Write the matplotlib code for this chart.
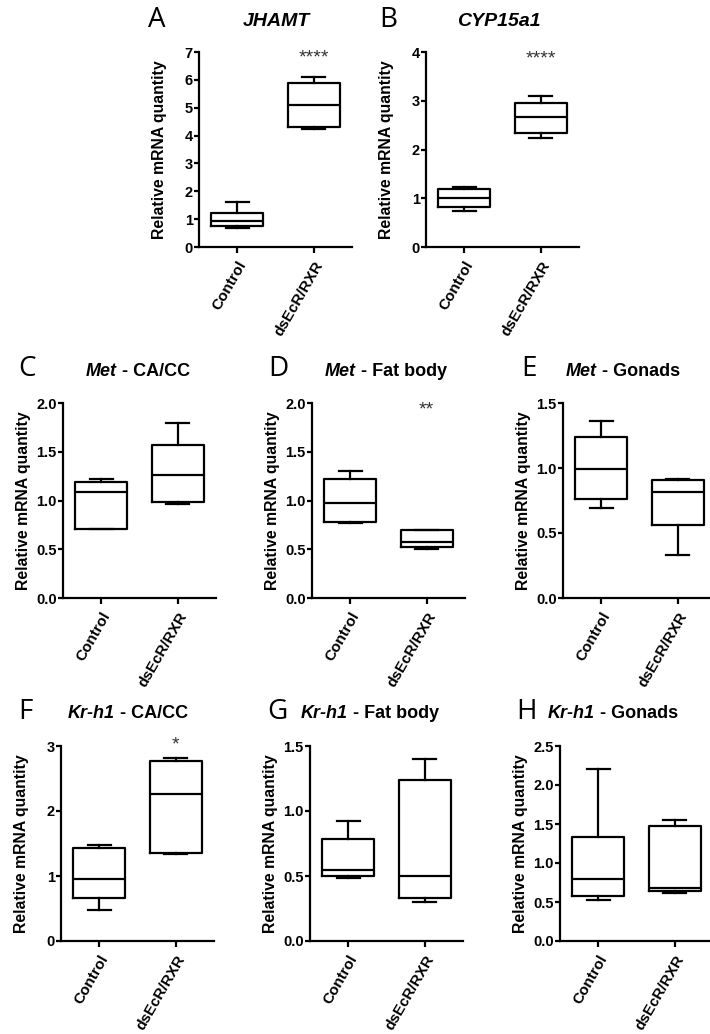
import numpy as np
import matplotlib
matplotlib.use('Agg')
import matplotlib.pyplot as plt

plt.rcParams['font.family'] = ['Liberation Sans', 'DejaVu Sans']

FIGW, FIGH = 7.1, 10.34
DPI = 100
LW = 1.6

GROUPS = ['Control', 'dsEcR/RXR']

# box summaries: whisker low, q1, median, q3, whisker high
JHAMT_CTRL = [0.68, 0.77, 0.93, 1.21, 1.60]
JHAMT_DS = [4.25, 4.31, 5.10, 5.89, 6.09]
CYP_CTRL = [0.73, 0.82, 1.00, 1.18, 1.23]
CYP_DS = [2.24, 2.33, 2.67, 2.95, 3.10]
MET_CACC_CTRL = [0.71, 0.71, 1.085, 1.19, 1.22]
MET_CACC_DS = [0.96, 0.98, 1.26, 1.565, 1.79]
MET_FAT_CTRL = [0.765, 0.78, 0.975, 1.22, 1.30]
MET_FAT_DS = [0.50, 0.525, 0.576, 0.696, 0.696]
MET_GON_CTRL = [0.69, 0.765, 0.99, 1.235, 1.36]
MET_GON_DS = [0.33, 0.558, 0.815, 0.906, 0.918]
KR_CACC_CTRL = [0.47, 0.66, 0.95, 1.43, 1.47]
KR_CACC_DS = [1.34, 1.36, 2.26, 2.77, 2.82]
KR_FAT_CTRL = [0.487, 0.50, 0.544, 0.785, 0.923]
KR_FAT_DS = [0.297, 0.328, 0.503, 1.241, 1.40]
KR_GON_CTRL = [0.53, 0.58, 0.80, 1.33, 2.20]
KR_GON_DS = [0.61, 0.64, 0.68, 1.47, 1.55]

# significance marks over the dsEcR/RXR box
STARS = {'A': ('****', 6.78), 'B': ('****', 3.86), 'D': ('**', 1.93), 'F': ('*', 3.02)}


def fx(px):
    return px / (FIGW * DPI)


def fy(py):
    return 1 - py / (FIGH * DPI)


AX_W, AX_H = 153, 195

# letter, italic gene, tissue, data, ymax, ystep, tick fmt, axes left/top px,
# letter pos px, title pos px, centred title?
PANELS = [
    ('A', 'JHAMT', '', JHAMT_CTRL, JHAMT_DS, 7, 1, '{:.0f}', (199, 52), (148, 20), (276, 22), True),
    ('B', 'CYP15a1', '', CYP_CTRL, CYP_DS, 4, 1, '{:.0f}', (426, 52), (379, 20), (499, 22), True),
    ('C', 'Met', ' - CA/CC', MET_CACC_CTRL, MET_CACC_DS, 2.0, 0.5, '{:.1f}', (63, 403), (18, 369), (86, 371), False),
    ('D', 'Met', ' - Fat body', MET_FAT_CTRL, MET_FAT_DS, 2.0, 0.5, '{:.1f}', (312, 403), (268, 369), (325, 371), False),
    ('E', 'Met', ' - Gonads', MET_GON_CTRL, MET_GON_DS, 1.5, 0.5, '{:.1f}', (563, 403), (521, 369), (566, 371), False),
    ('F', 'Kr-h1', ' - CA/CC', KR_CACC_CTRL, KR_CACC_DS, 3, 1, '{:.0f}', (61, 746), (18, 712), (68, 714), False),
    ('G', 'Kr-h1', ' - Fat body', KR_FAT_CTRL, KR_FAT_DS, 1.5, 0.5, '{:.1f}', (310, 746), (267, 712), (301, 714), False),
    ('H', 'Kr-h1', ' - Gonads', KR_GON_CTRL, KR_GON_DS, 2.5, 0.5, '{:.1f}', (560, 746), (516, 712), (548, 714), False),
]


def draw_box(ax, ctrl, ds, ymax, ystep, fmt):
    stats = []
    for s, g in zip((ctrl, ds), GROUPS):
        stats.append(dict(whislo=s[0], q1=s[1], med=s[2], q3=s[3], whishi=s[4],
                          fliers=[], label=g))
    line = dict(color='black', linewidth=LW)
    ax.bxp(stats, positions=[0, 1], widths=0.68, capwidths=0.3, showfliers=False,
           boxprops=line, whiskerprops=line, capprops=line, medianprops=line)
    ax.set_xlim(-0.5, 1.5)
    ax.set_ylim(0, ymax)
    ticks = np.arange(0, ymax + ystep / 2, ystep)
    ax.set_yticks(ticks)
    ax.set_yticklabels([fmt.format(t) for t in ticks], fontweight='bold', fontsize=10.5)
    ax.set_xticks([0, 1])
    ax.set_xticklabels(GROUPS, rotation=60, ha='right', rotation_mode='anchor',
                       fontweight='bold', fontsize=11)
    for side in ('top', 'right'):
        ax.spines[side].set_visible(False)
    for side in ('left', 'bottom'):
        ax.spines[side].set_linewidth(LW)
    ax.tick_params(axis='y', length=3.5, width=LW, pad=1)
    ax.tick_params(axis='x', length=4.5, width=LW, pad=4)
    ax.set_ylabel('Relative mRNA quantity', fontweight='bold', fontsize=11.3)
    ax.yaxis.set_label_coords(-0.21, 0.5)


fig = plt.figure(figsize=(FIGW, FIGH), dpi=DPI)

for (letter, gene, tissue, ctrl, ds, ymax, ystep, fmt,
     (axl, axt), (lx, ly), (tx, ty), centred) in PANELS:
    ax = fig.add_axes([fx(axl), fy(axt + AX_H), AX_W / (FIGW * DPI), AX_H / (FIGH * DPI)])
    draw_box(ax, ctrl, ds, ymax, ystep, fmt)

    if letter in STARS:
        mark, sy = STARS[letter]
        ax.text(1, sy, mark, ha='center', va='center', fontsize=14, color='#333333',
                clip_on=False)

    fig.text(fx(lx), fy(ly), letter, fontsize=20, family='Open Sans', va='center', ha='left')
    if centred:
        fig.text(fx(tx), fy(ty), gene, fontsize=14, fontweight='bold', style='italic',
                 ha='center', va='center')
    else:
        t = fig.text(fx(tx), fy(ty), gene, fontsize=13, fontweight='bold', style='italic',
                     ha='left', va='center')
        ax.annotate(tissue, xy=(1, 0.5), xycoords=t, ha='left', va='center',
                    fontsize=13, fontweight='bold', annotation_clip=False)

fig.savefig('out.png', dpi=DPI)
